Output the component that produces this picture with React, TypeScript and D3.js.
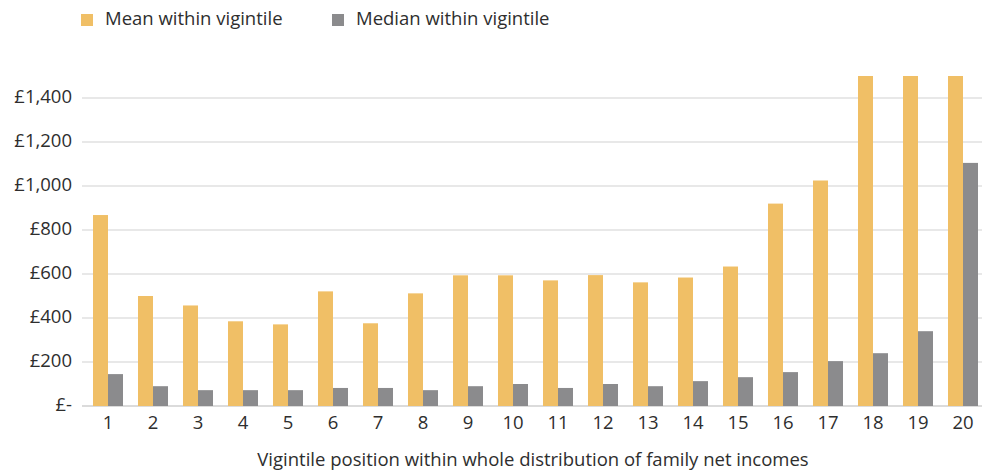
import React from 'react';
import * as d3 from 'd3';

const categories = ['1', '2', '3', '4', '5', '6', '7', '8', '9', '10', '11', '12', '13', '14', '15', '16', '17', '18', '19', '20'];
// bars 18-20 run off the top of the axis (shown clipped at the axis maximum)
const meanValues = [868, 500, 457, 385, 371, 521, 376, 512, 594, 594, 571, 595, 562, 584, 634, 920, 1025, 1500, 1500, 1500];
const medianValues = [145, 90, 72, 72, 72, 82, 82, 72, 90, 100, 82, 100, 90, 113, 131, 154, 204, 240, 340, 1105];
const yTicks = [0, 200, 400, 600, 800, 1000, 1200, 1400];
const seriesNames = ['Mean within vigintile', 'Median within vigintile'];
const seriesColors = ['#f0bf66', '#8b8b8d'];
const xTitle = 'Vigintile position within whole distribution of family net incomes';

const width = 982;
const height = 472;
const margin = { top: 76, right: -3.5, bottom: 66, left: 85.5 };

const fmt = (v: number) => (v === 0 ? '£-' : '£' + d3.format(',')(v));

export default function App() {
  const x = d3.scaleBand<string>()
    .domain(categories)
    .range([margin.left, width - margin.right])
    .paddingInner(1 / 3)
    .paddingOuter(1 / 6);

  const xs = d3.scaleBand<number>()
    .domain([0, 1])
    .range([0, x.bandwidth()]);

  const y = d3.scaleLinear()
    .domain([0, 1500])
    .range([height - margin.bottom, margin.top])
    .clamp(true);

  const series = [meanValues, medianValues];
  const font = '"Open Sans", sans-serif';
  const fs = 18.5;
  const ink = '#2e2e2e';

  return (
    <svg width={width} height={height} style={{ position: 'absolute', left: 0, top: 0, background: '#fff' }}
      fontFamily={font}>
      {/* legend */}
      {seriesNames.map((name, i) => {
        const lx = i === 0 ? 81 : 332;
        return (
          <g key={name}>
            <rect x={lx} y={14} width={12} height={12} fill={seriesColors[i]} />
            <text x={lx + 24} y={20} dominantBaseline="middle" fontSize={fs} fill={ink}>{name}</text>
          </g>
        );
      })}

      {/* gridlines */}
      {yTicks.map((t) => (
        <line key={t} x1={82} x2={width} y1={y(t)} y2={y(t)}
          stroke={t === 0 ? '#cfcfcf' : '#e0e0e0'} strokeWidth={1.5} />
      ))}
      {yTicks.map((t) => (
        <text key={'l' + t} x={72} y={y(t)} textAnchor="end" dominantBaseline="middle" fontSize={fs} fill={ink}>
          {fmt(t)}
        </text>
      ))}

      {/* bars */}
      {categories.map((c, ci) => (
        <g key={c} transform={`translate(${x(c)},0)`}>
          {series.map((vals, si) => (
            <rect key={si} x={xs(si)} width={xs.bandwidth()} y={y(vals[ci])}
              height={y(0) - y(vals[ci])} fill={seriesColors[si]} />
          ))}
        </g>
      ))}

      {/* x labels */}
      {categories.map((c) => (
        <text key={'x' + c} x={(x(c) as number) + x.bandwidth() / 2} y={424} textAnchor="middle"
          dominantBaseline="middle" fontSize={fs} fill={ink}>{c}</text>
      ))}
      <text x={533} y={461} textAnchor="middle" dominantBaseline="middle" fontSize={fs} fill={ink}>{xTitle}</text>
    </svg>
  );
}
